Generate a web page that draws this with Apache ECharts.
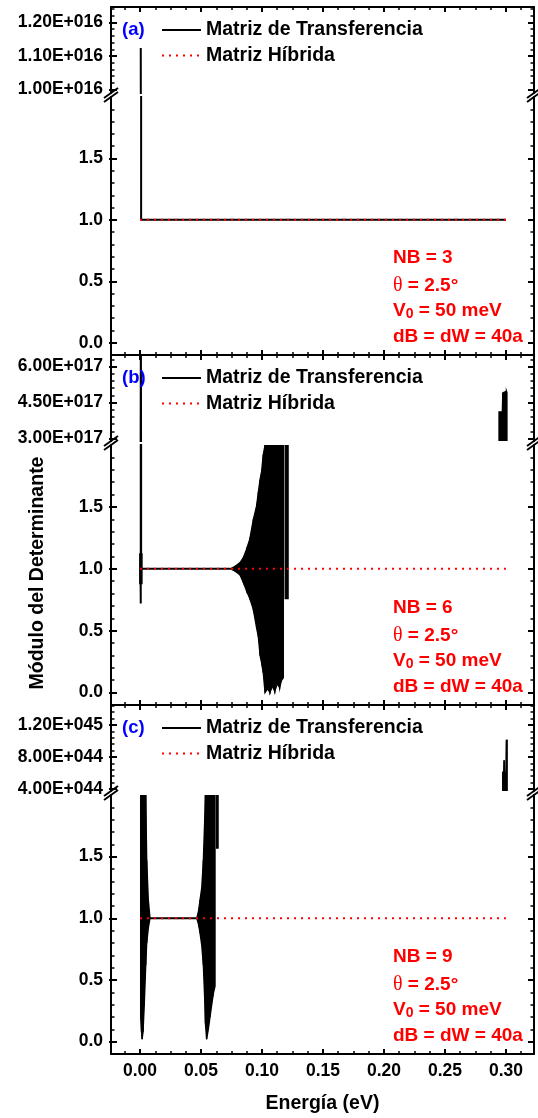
<!DOCTYPE html>
<html><head><meta charset="utf-8">
<script src="https://cdn.jsdelivr.net/npm/echarts@6/dist/echarts.min.js"></script>
<style>html,body{margin:0;padding:0;background:#fff}#c{width:538px;height:1118px}</style>
</head><body><div id="c"></div>
<script>
// ================= DATA =================
const seriesNames = ['Matriz de Transferencia', 'Matriz Híbrida'];
const panelLabels = ['(a)', '(b)', '(c)'];
const nbLabels = ['NB = 3', 'NB = 6', 'NB = 9'];
const xTickValues = [0, 0.05, 0.10, 0.15, 0.20, 0.25, 0.30];
const lowerTickValues = [0, 0.5, 1.0, 1.5];
const upperTicksA = [1.0e16, 1.1e16, 1.2e16];
const upperTicksB = [3.0e17, 4.5e17, 6.0e17];
const upperTicksC = [4.0e44, 8.0e44, 1.2e45];
const xTitle = 'Energía (eV)';
const yTitle = 'Módulo del Determinante';

// Transfer matrix (black) – sparse polyline parts
const tmA_x = [0.0006, 0.0009, 0.300];
const tmA_y = [1.124e16, 1.0, 1.0];
const tmB_x = [0.0004, 0.0006, 0.0007, 0.0009, 0.0740];
const tmB_y = [1.0, 0.72, 8.0e17, 1.0, 1.0];
const tmC_x = [0.0082, 0.0465];
const tmC_y = [1.0, 1.0];

// Transfer matrix – dense oscillation envelopes (energy, lower edge, upper edge)
const envB_start = { x: [-0.0002, 0.0016], lo: [0.88, 0.88], hi: [1.12, 1.12] };
const envB_main = {
  x:  [0.0740, 0.0780, 0.0820, 0.0847, 0.0874, 0.0900, 0.0929, 0.0956, 0.0970, 0.0984, 0.0997, 0.1010, 0.1025, 0.1045, 0.1065, 0.1085, 0.1105, 0.1125, 0.1145, 0.1160, 0.1175],
  lo: [1.00, 0.98, 0.95, 0.89, 0.82, 0.76, 0.67, 0.52, 0.45, 0.30, 0.24, 0.16, 0.00, 0.03, 0.00, 0.05, 0.01, 0.07, 0.04, 0.10, 0.12],
  hi: [1.00, 1.02, 1.05, 1.09, 1.16, 1.24, 1.40, 1.51, 1.62, 1.72, 1.79, 1.92, 2.05, 3.0, 3.0, 3.0, 3.0, 3.0, 3.0, 3.0, 3.0]
};
const envB_bar = { x: [0.1190, 0.1214], lo: [0.76, 0.76], hi: [3.0, 3.0] };
const envB_high = { x: [0.2943, 0.2970, 0.2974, 0.3004, 0.3008], lo: [1e17, 1e17, 1e17, 1e17, 1e17], hi: [4.11e17, 4.11e17, 4.90e17, 4.97e17, 4.90e17] };

const envC_left = {
  x:  [0.0005, 0.0012, 0.0017, 0.0025, 0.0035, 0.0047, 0.0055, 0.0068, 0.0082],
  lo: [0.20, 0.08, 0.02, 0.08, 0.30, 0.62, 0.80, 0.92, 1.00],
  hi: [3.0, 3.0, 3.0, 3.0, 3.0, 2.05, 1.47, 1.15, 1.00]
};
const envC_right = {
  x:  [0.0465, 0.0480, 0.0492, 0.0506, 0.0519, 0.0530, 0.0536, 0.0546, 0.0560, 0.0574, 0.0601, 0.0615],
  lo: [1.00, 0.95, 0.88, 0.78, 0.62, 0.35, 0.15, 0.02, 0.10, 0.20, 0.39, 0.45],
  hi: [1.00, 1.06, 1.15, 1.25, 1.47, 1.80, 2.05, 3.0, 3.0, 3.0, 3.0, 3.0]
};
const envC_bar = { x: [0.0628, 0.0640], lo: [1.57, 1.57], hi: [3.0, 3.0] };
const envC_high = {
  x:  [0.2973, 0.2982, 0.2985, 0.2989, 0.3000, 0.3004, 0.3010],
  lo: [1e44, 1e44, 1e44, 1e44, 1e44, 1e44, 1e44],
  hi: [6.1e44, 6.1e44, 7.6e44, 6.1e44, 6.1e44, 1.01e45, 1.01e45]
};

// Hybrid matrix (red dotted)
const hybA_x = [0.0, 0.300]; const hybA_y = [1.0, 1.0];
const hybB_x = [0.0, 0.300]; const hybB_y = [1.0, 1.0];
const hybC_x = [0.0, 0.300]; const hybC_y = [1.0, 1.0];

// ================= LAYOUT / STYLE =================
const FONT = "'Liberation Sans', Arial, sans-serif";
const XMIN = -0.0238, XMAX = 0.323;
const LOWER_MIN = -0.1, LOWER_MAX = 2.0;
const upperRanges = [[0.99e16, 1.246e16], [2.9e17, 6.48e17], [3.75e44, 1.45e45]];
const upperTicks = [upperTicksA, upperTicksB, upperTicksC];
const upperMinorSteps = [0.02e16, 0.3e17, 0.8e44];
const LAYOUT = [{ top: 7, brk: 93, bottom: 355 }, { top: 355, brk: 441, bottom: 705 }, { top: 705, brk: 791, bottom: 1054 }];
const GAP = 4, LEFT = 111, RIGHT = 534;

const panels = [
  { tmX: tmA_x, tmY: tmA_y, env: [], hybX: hybA_x, hybY: hybA_y },
  { tmX: tmB_x, tmY: tmB_y, env: [envB_start, envB_main, envB_bar, envB_high], hybX: hybB_x, hybY: hybB_y },
  { tmX: tmC_x, tmY: tmC_y, env: [envC_left, envC_right, envC_bar, envC_high], hybX: hybC_x, hybY: hybC_y }
];

function sciLabel(v) {
  const [m, e] = v.toExponential(2).split('e');
  const n = parseInt(e, 10);
  return m + 'E' + (n < 0 ? '-' : '+') + String(Math.abs(n)).padStart(3, '0');
}
function minorList(step, lo, hi, majors) {
  const out = [];
  for (let k = Math.ceil(lo / step - 1e-9); k * step <= hi + 1e-9 * Math.abs(hi); k++) {
    const v = k * step;
    if (!majors.some(m => Math.abs(m - v) < step * 0.01)) out.push(v);
  }
  return out;
}
const xMinor = minorList(0.0125, XMIN, XMAX, xTickValues);
const lowerMinor = minorList(0.1, 0.05, 1.95, lowerTickValues);

const grids = [], xAxes = [], yAxes = [], series = [], graphic = [];
const AX = { lineStyle: { color: '#000', width: 2 } };

LAYOUT.forEach((L, p) => {
  [0, 1].forEach(part => {
    const upper = part === 0;
    const top = upper ? L.top : L.brk + GAP;
    const h = upper ? L.brk - L.top : L.bottom - L.brk - GAP;
    grids.push({ left: LEFT, width: RIGHT - LEFT, top: top, height: h, outerBoundsMode: 'none', containLabel: false });
    const g = grids.length - 1;
    const showXLabel = (p === 2 && !upper);
    const xBase = { type: 'value', gridIndex: g, min: XMIN, max: XMAX, position: upper ? 'top' : 'bottom', splitLine: { show: false } };
    xAxes.push(Object.assign({}, xBase, {
      axisLine: { show: true, onZero: false, lineStyle: AX.lineStyle },
      axisTick: { show: true, inside: true, length: 5, lineStyle: { color: '#000', width: 2 }, customValues: xTickValues },
      axisLabel: { show: showXLabel, customValues: xTickValues, formatter: v => v.toFixed(2), margin: 8, color: '#000', fontSize: 17.5, fontWeight: 'bold', fontFamily: FONT }
    }));
    xAxes.push(Object.assign({}, xBase, {
      axisLine: { show: false, onZero: false },
      axisTick: { show: true, inside: true, length: 3, lineStyle: { color: '#000', width: 1.5 }, customValues: xMinor },
      axisLabel: { show: false }
    }));
    const yMin = upper ? upperRanges[p][0] : LOWER_MIN;
    const yMax = upper ? upperRanges[p][1] : LOWER_MAX;
    const majors = upper ? upperTicks[p] : lowerTickValues;
    const minors = upper ? minorList(upperMinorSteps[p], yMin, yMax, majors) : lowerMinor;
    const fmt = upper ? sciLabel : (v => v.toFixed(1));
    const yBase = { type: 'value', gridIndex: g, min: yMin, max: yMax, splitLine: { show: false } };
    yAxes.push(Object.assign({}, yBase, { position: 'left',
      axisLine: { show: true, onZero: false, lineStyle: AX.lineStyle },
      axisTick: { show: true, inside: true, length: 6, lineStyle: { color: '#000', width: 2 }, customValues: majors },
      axisLabel: { show: true, customValues: majors, formatter: fmt, margin: 8, color: '#000', fontSize: 17.5, fontWeight: 'bold', fontFamily: FONT }
    }));
    yAxes.push(Object.assign({}, yBase, { position: 'left',
      axisLine: { show: false, onZero: false },
      axisTick: { show: true, inside: false, length: 2, lineStyle: { color: '#000', width: 2 }, customValues: majors },
      axisLabel: { show: false }
    }));
    yAxes.push(Object.assign({}, yBase, { position: 'left',
      axisLine: { show: false, onZero: false },
      axisTick: { show: true, inside: true, length: 3.5, lineStyle: { color: '#000', width: 1.5 }, customValues: minors },
      axisLabel: { show: false }
    }));
    yAxes.push(Object.assign({}, yBase, { position: 'right',
      axisLine: { show: true, onZero: false, lineStyle: AX.lineStyle },
      axisTick: { show: true, inside: true, length: 6, lineStyle: { color: '#000', width: 2 }, customValues: majors },
      axisLabel: { show: false }
    }));
    yAxes.push(Object.assign({}, yBase, { position: 'right',
      axisLine: { show: false, onZero: false },
      axisTick: { show: true, inside: true, length: 3.5, lineStyle: { color: '#000', width: 1.5 }, customValues: minors },
      axisLabel: { show: false }
    }));
  });
});

function renderEnv(params, api) {
  const cs = params.coordSys;
  const top = cs.y, bot = cs.y + cs.height;
  const q = [
    api.coord([api.value(0), api.value(2)]),
    api.coord([api.value(3), api.value(5)]),
    api.coord([api.value(3), api.value(4)]),
    api.coord([api.value(0), api.value(1)])
  ];
  if (q.every(t => t[1] < top) || q.every(t => t[1] > bot)) return null;
  const pts = q.map(t => [t[0], Math.max(top, Math.min(bot, t[1]))]);
  return { type: 'polygon', shape: { points: pts }, style: { fill: '#000', stroke: '#000', lineWidth: 1.3, lineJoin: 'miter' } };
}
function quads(block, cap) {
  const out = [];
  for (let i = 0; i < block.x.length - 1; i++) {
    out.push([block.x[i], cap(block.lo[i]), cap(block.hi[i]), block.x[i + 1], cap(block.lo[i + 1]), cap(block.hi[i + 1])]);
  }
  return out;
}

// black polylines first (legend icon source)
panels.forEach((P, p) => {
  [0, 1].forEach(part => {
    const g = 2 * p + part;
    const cap = part === 1 ? (v => Math.min(v, 50)) : (v => v);
    series.push({ type: 'line', name: seriesNames[0], xAxisIndex: 2 * g, yAxisIndex: 5 * g,
      data: P.tmX.map((x, i) => [x, cap(P.tmY[i])]), symbol: 'none', clip: true, z: 2, silent: true,
      lineStyle: { color: '#000', width: 2 }, itemStyle: { color: '#000' } });
  });
});
panels.forEach((P, p) => {
  [0, 1].forEach(part => {
    const g = 2 * p + part;
    const cap = part === 1 ? (v => Math.min(v, 50)) : (v => v);
    const data = [];
    P.env.forEach(b => quads(b, cap).forEach(d => data.push(d)));
    if (data.length) series.push({ type: 'custom', name: seriesNames[0], xAxisIndex: 2 * g, yAxisIndex: 5 * g,
      data: data, renderItem: renderEnv, clip: true, z: 2, silent: true, itemStyle: { color: '#000' } });
  });
});
panels.forEach((P, p) => {
  const g = 2 * p + 1;
  series.push({ type: 'line', name: seriesNames[1], xAxisIndex: 2 * g, yAxisIndex: 5 * g,
    data: P.hybX.map((x, i) => [x, P.hybY[i]]), symbol: 'none', clip: true, z: 3, silent: true,
    lineStyle: { color: '#ff0000', width: 2, type: [2, 5] }, itemStyle: { color: '#ff0000' } });
});

const legends = LAYOUT.map(L => ({
  left: 161, top: L.top + 13, orient: 'vertical', padding: 0, itemWidth: 39, itemHeight: 20, itemGap: 5.5,
  data: seriesNames, selectedMode: false,
  itemStyle: { opacity: 0 },
  textStyle: { fontSize: 19.5, fontWeight: 'bold', fontFamily: FONT, color: '#000' }
}));

// break marks, labels, annotations
LAYOUT.forEach((L, p) => {
  [LEFT, RIGHT].forEach(X => {
    [L.brk, L.brk + GAP].forEach(Y => {
      graphic.push({ type: 'line', silent: true, z: 100, shape: { x1: X - 7, y1: Y + 5, x2: X + 7, y2: Y - 5 }, style: { stroke: '#000', lineWidth: 2 } });
    });
  });
  graphic.push({ type: 'text', x: 122, y: L.top + 23, silent: true, z: 100,
    style: { text: panelLabels[p], fill: '#0000ff', fontSize: 18.5, fontWeight: 'bold', fontFamily: FONT, align: 'left', verticalAlign: 'middle' } });
  const red = { fill: '#ff0000', fontSize: 19, fontWeight: 'bold', fontFamily: FONT, align: 'left', verticalAlign: 'middle' };
  const lines = [
    nbLabels[p],
    '{th|θ} = 2.5°',
    'V{sub|0} = 50 meV',
    'dB = dW = 40a'
  ];
  const offs = [-97, -69, -44, -18];
  lines.forEach((t, i) => {
    graphic.push({ type: 'text', x: 393, y: L.bottom + offs[i], silent: true, z: 100,
      style: Object.assign({}, red, { text: t, rich: {
        th: { fontFamily: "'Liberation Serif', serif", fontWeight: 'normal', fontSize: 20, fill: '#ff0000' },
        sub: { fontSize: 14, fontWeight: 'bold', fontFamily: FONT, fill: '#ff0000', verticalAlign: 'bottom', lineHeight: 20 }
      } }) });
  });
});
graphic.push({ type: 'text', x: 322.5, y: 1104, silent: true,
  style: { text: xTitle, fill: '#000', fontSize: 19.5, fontWeight: 'bold', fontFamily: FONT, align: 'center', verticalAlign: 'middle' } });
graphic.push({ type: 'text', x: 38, y: 573, rotation: Math.PI / 2, silent: true,
  style: { text: yTitle, fill: '#000', fontSize: 19.5, fontWeight: 'bold', fontFamily: FONT, align: 'center', verticalAlign: 'middle' } });

const chart = echarts.init(document.getElementById('c'), null, { renderer: 'canvas' });
chart.setOption({
  animation: false,
  backgroundColor: '#ffffff',
  grid: grids, xAxis: xAxes, yAxis: yAxes, legend: legends, series: series, graphic: graphic
});
</script></body></html>
